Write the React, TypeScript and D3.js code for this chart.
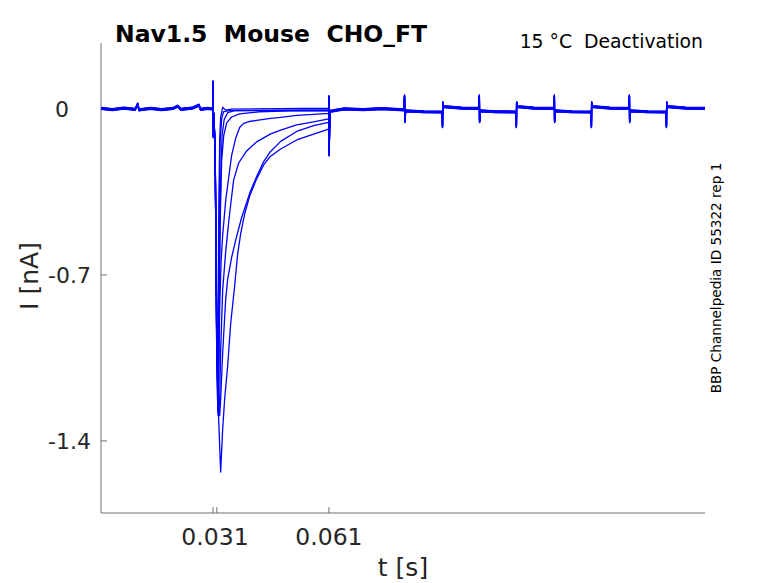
import React from 'react';
import * as d3 from 'd3';

// time in s, current in nA
const preTimes = [0.0010, 0.0040, 0.0070, 0.0100, 0.01066, 0.0110, 0.0140, 0.0170, 0.0200, 0.0212, 0.0220, 0.0250, 0.0268, 0.0272, 0.0290, 0.0302];
const preCurrent = [0.002, -0.003, 0.003, -0.002, 0.021, -0.004, 0.002, -0.003, 0.002, 0.012, -0.002, 0.003, 0.016, -0.002, 0.002, 0.000];

const onsetTimes = [0.03040, 0.03050, 0.03058, 0.03070];
const onsetCurrent = [0.000, 0.114, -0.118, -0.020];

// tail currents after the activating step, one per sweep
const sweepTimes = [
  [0.03105, 0.03145, 0.03197, 0.03250, 0.03303, 0.03355, 0.03434, 0.03513, 0.03618, 0.03697, 0.03776, 0.03882, 0.04013, 0.04197, 0.04382, 0.04539, 0.04829, 0.05250, 0.05697, 0.06092],
  [0.03105, 0.03145, 0.03197, 0.03224, 0.03250, 0.03303, 0.03382, 0.03434, 0.03539, 0.03618, 0.03697, 0.03803, 0.04013, 0.04197, 0.04382, 0.04539, 0.04829, 0.05250, 0.05697, 0.06092],
  [0.03105, 0.03145, 0.03197, 0.03224, 0.03250, 0.03303, 0.03382, 0.03461, 0.03513, 0.03592, 0.03724, 0.03934, 0.04197, 0.04566, 0.04829, 0.05250, 0.05697, 0.06092],
  [0.03105, 0.03145, 0.03184, 0.03224, 0.03263, 0.03303, 0.03382, 0.03434, 0.03539, 0.03645, 0.03750, 0.03855, 0.04013, 0.04197, 0.04566, 0.04829, 0.05250, 0.05697, 0.06092],
  [0.03105, 0.03145, 0.03184, 0.03211, 0.03237, 0.03276, 0.03329, 0.03408, 0.03539, 0.03750, 0.04276, 0.05066, 0.06092],
  [0.03105, 0.03145, 0.03171, 0.03197, 0.03224, 0.03250, 0.03303, 0.03382, 0.03539, 0.06092],
  [0.03105, 0.03145, 0.03176, 0.03211, 0.03237, 0.03276, 0.03329, 0.03487, 0.06092],
  [0.03105, 0.03145, 0.03184, 0.03218, 0.03250, 0.03289, 0.03342, 0.03434, 0.03618, 0.06092],
];
const sweepCurrent = [
  [-0.173, -0.806, -1.312, -1.535, -1.354, -1.227, -1.088, -0.911, -0.751, -0.616, -0.531, -0.447, -0.371, -0.299, -0.240, -0.207, -0.173, -0.135, -0.110, -0.089],
  [-0.173, -0.932, -1.278, -1.295, -1.227, -1.029, -0.806, -0.721, -0.628, -0.574, -0.523, -0.460, -0.358, -0.287, -0.224, -0.186, -0.139, -0.097, -0.072, -0.059],
  [-0.173, -0.932, -1.286, -1.227, -1.016, -0.763, -0.603, -0.477, -0.405, -0.299, -0.228, -0.177, -0.139, -0.105, -0.089, -0.067, -0.055, -0.042],
  [-0.173, -0.890, -1.269, -0.835, -0.637, -0.531, -0.384, -0.321, -0.194, -0.122, -0.076, -0.059, -0.051, -0.046, -0.038, -0.034, -0.025, -0.021, -0.017],
  [-0.173, -0.932, -1.278, -0.806, -0.468, -0.215, -0.110, -0.055, -0.030, -0.017, -0.008, -0.004, -0.004],
  [-0.173, -0.974, -1.248, -0.510, -0.131, -0.038, 0.004, -0.008, -0.004, 0.000],
  [-0.173, -1.016, -1.269, -0.426, -0.131, -0.038, -0.008, -0.004, -0.004],
  [-0.173, -0.995, -1.295, -0.679, -0.299, -0.110, -0.046, -0.017, -0.008, -0.004],
];
const leakOffsets = [0.004, 0.002, 0.000, -0.002, -0.004, 0.003, -0.003, 0.001];

// return step at 0.061 s and the later test-pulse artefacts
const postTimes = [
  0.06100, 0.06106, 0.06125, 0.0650, 0.0700, 0.0750, 0.0808,
  0.08090, 0.08096, 0.08120, 0.08600, 0.09080,
  0.09090, 0.09096, 0.09120, 0.09600, 0.10050,
  0.10060, 0.10066, 0.10090, 0.10500, 0.11025,
  0.11035, 0.11041, 0.11065, 0.11500, 0.12025,
  0.12035, 0.12041, 0.12065, 0.12500, 0.13000,
  0.13010, 0.13016, 0.13040, 0.13500, 0.14000,
  0.14010, 0.14016, 0.14040, 0.14500, 0.14975,
  0.14985, 0.14991, 0.15015, 0.15500, 0.16000,
];
const postCurrent = [
  0.052, -0.194, -0.010, 0.000, -0.003, 0.001, -0.004,
  0.055, -0.054, -0.008, -0.012, -0.013,
  -0.075, 0.027, 0.010, 0.003, 0.002,
  0.055, -0.054, -0.008, -0.012, -0.013,
  -0.075, 0.027, 0.010, 0.003, 0.002,
  0.055, -0.054, -0.008, -0.012, -0.013,
  -0.075, 0.027, 0.010, 0.003, 0.002,
  0.055, -0.054, -0.008, -0.012, -0.013,
  -0.075, 0.027, 0.010, 0.003, 0.002,
];

const xTicks = [0.0305, 0.0315, 0.061];
const xTickLabels = ['0.031', '0.061'];
const xTickLabelAt = [0.031, 0.061];
const yTicks = [0, -0.7, -1.4];
const yTickLabels = ['0', '-0.7', '-1.4'];
// the zero label sits further left in the original
const yTickLabelGap = [32, 10, 10];

const W = 778;
const H = 583;
const margin = { left: 101, right: 73, top: 43, bottom: 70 };
const font = 'DejaVu Sans, sans-serif';
const textColor = '#262626';
const axisColor = '#6e6e6e';

export default function App() {
  const x = d3.scaleLinear().domain([0.001, 0.16]).range([margin.left, W - margin.right]);
  const y = d3.scaleLinear().domain([-1.704, 0.278]).range([H - margin.bottom, margin.top]);

  const line = d3.line<[number, number]>()
    .x(d => x(d[0]))
    .y(d => y(d[1]));

  const sweeps = sweepTimes.map((ts, k) => {
    const off = leakOffsets[k];
    const pts: [number, number][] = [];
    preTimes.forEach((t, i) => pts.push([t, preCurrent[i] + off]));
    onsetTimes.forEach((t, i) => pts.push([t, onsetCurrent[i] + off]));
    ts.forEach((t, i) => pts.push([t, sweepCurrent[k][i] + off]));
    postTimes.forEach((t, i) => pts.push([t, postCurrent[i] + off]));
    return pts;
  });

  const bottom = H - margin.bottom;

  return (
    <svg width={W} height={H} style={{ position: 'absolute', left: 0, top: 0, background: '#fff' }}>
      <rect width={W} height={H} fill="#fff" />
      {/* axes */}
      <line x1={margin.left} x2={margin.left} y1={margin.top} y2={bottom} stroke={axisColor} strokeWidth={1} />
      <line x1={margin.left} x2={W - margin.right} y1={bottom} y2={bottom} stroke={axisColor} strokeWidth={1} />
      {yTicks.map((v, i) => (
        <g key={'y' + i}>
          <line x1={margin.left} x2={margin.left + 6} y1={y(v)} y2={y(v)} stroke={axisColor} />
          <text x={margin.left - yTickLabelGap[i]} y={y(v)} dy="0.36em" textAnchor="end" fontFamily={font} fontSize={22} fill={textColor}>
            {yTickLabels[i]}
          </text>
        </g>
      ))}
      {xTicks.map((v, i) => (
        <line key={'xt' + i} x1={x(v)} x2={x(v)} y1={bottom} y2={bottom - 6} stroke={axisColor} />
      ))}
      {xTickLabelAt.map((v, i) => (
        <text key={'xl' + i} x={x(v)} y={bottom + 32} textAnchor="middle" fontFamily={font} fontSize={23.5} fill={textColor}>
          {xTickLabels[i]}
        </text>
      ))}

      {/* sweeps */}
      {sweeps.map((pts, k) => (
        <path key={k} d={line(pts) || ''} fill="none" stroke="#0000ff" strokeWidth={1.3} strokeLinejoin="round" />
      ))}

      {/* labels */}
      <text x={403} y={576} textAnchor="middle" fontFamily={font} fontSize={25} fill={textColor}>t [s]</text>
      <text transform="translate(38,276) rotate(-90)" textAnchor="middle" fontFamily={font} fontSize={25} fill={textColor}>I [nA]</text>
      <text x={115} y={42} fontFamily={font} fontSize={23.5} fontWeight="bold" fill="#000" style={{ whiteSpace: 'pre' }}>
        Nav1.5  Mouse  CHO_FT
      </text>
      <text x={703} y={48} textAnchor="end" fontFamily={font} fontSize={18.8} fill="#000" style={{ whiteSpace: 'pre' }}>
        15 °C  Deactivation
      </text>
      <text transform="translate(721,278) rotate(-90)" textAnchor="middle" fontFamily={font} fontSize={13.6} fill="#000">
        BBP Channelpedia ID 55322 rep 1
      </text>
    </svg>
  );
}
